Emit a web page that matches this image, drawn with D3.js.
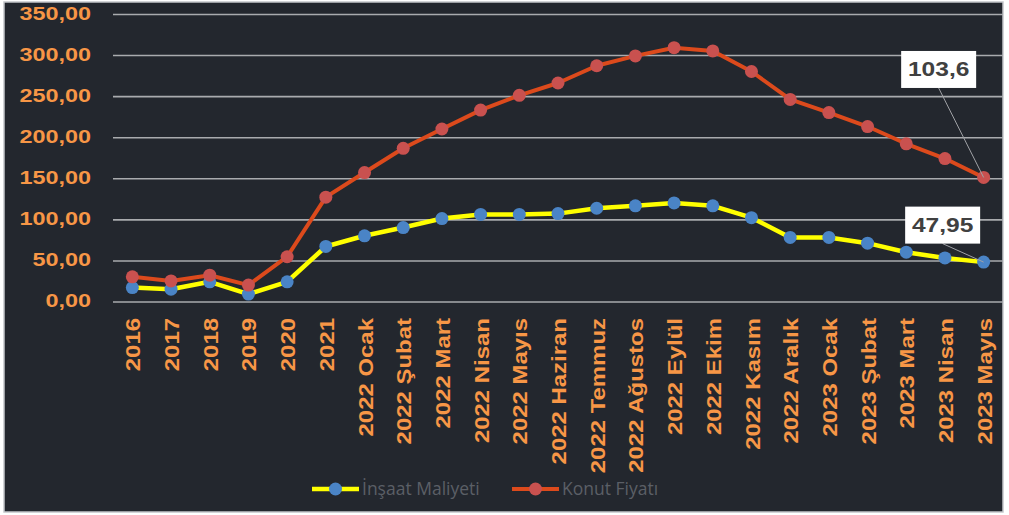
<!DOCTYPE html>
<html>
<head>
<meta charset="utf-8">
<script src="https://cdn.jsdelivr.net/npm/d3@7"></script>
<style>
  html, body { margin: 0; padding: 0; background: #ffffff; }
  svg { display: block; }
</style>
</head>
<body>
<svg id="chart" width="1009" height="515"></svg>
<script>
// ---- data ----
const categories = ["2016","2017","2018","2019","2020","2021",
  "2022 Ocak","2022 Şubat","2022 Mart","2022 Nisan","2022 Mayıs","2022 Haziran",
  "2022 Temmuz","2022 Ağustos","2022 Eylül","2022 Ekim","2022 Kasım","2022 Aralık",
  "2023 Ocak","2023 Şubat","2023 Mart","2023 Nisan","2023 Mayıs"];
const insaatMaliyeti = [17, 15, 24, 9, 24, 67, 80, 90, 101, 106, 106, 107,
  113.5, 116.5, 120, 116.5, 102, 78, 78, 71, 60, 53, 47.95];
const konutFiyati = [30, 25, 32, 20, 54.5, 127, 157, 186.5, 210, 233, 251, 266,
  287, 299, 309, 305, 280, 246, 230, 213, 192, 174, 151];
const yTicks = [0, 50, 100, 150, 200, 250, 300, 350];
const yTickLabels = ["0,00","50,00","100,00","150,00","200,00","250,00","300,00","350,00"];
const seriesNames = ["İnşaat Maliyeti", "Konut Fiyatı"];
const endLabels = ["47,95", "103,6"];

// ---- layout ----
const svg = d3.select("#chart");
const W = 1009, H = 515;
const plot = { left: 113, right: 1003, top: 14, bottom: 301.5 };
const orange = "#f79646";
const boldFont = "'Liberation Sans', Arial, sans-serif";
const colors = {
  yellowLine: "#ffff00", blueMarker: "#4a84c6",
  redLine: "#dc4a1c", redMarker: "#c9514f"
};

// stretch text glyphs horizontally (along the text direction)
function stretch(sel, k) {
  sel.each(function () {
    const n = this.getComputedTextLength();
    d3.select(this).attr("textLength", n * k).attr("lengthAdjust", "spacingAndGlyphs");
  });
}

svg.append("rect").attr("x", 0).attr("y", 0).attr("width", W).attr("height", H).attr("fill", "#ffffff");
svg.append("rect").attr("x", 4).attr("y", 2).attr("width", 999).attr("height", 510)
  .attr("fill", "#23272e").attr("stroke", "#c4c6ca").attr("stroke-width", 1.5);

const x = d3.scalePoint().domain(categories).range([plot.left, plot.right]).padding(0.5);
const y = d3.scaleLinear().domain([0, 350]).range([plot.bottom, plot.top]);

// y axis with grid
const yAxis = d3.axisLeft(y)
  .tickValues(yTicks)
  .tickFormat((d, i) => yTickLabels[i])
  .tickSizeInner(-(plot.right - plot.left))
  .tickSizeOuter(0)
  .tickPadding(22);
const gy = svg.append("g").attr("transform", `translate(${plot.left},0)`).call(yAxis);
gy.select(".domain").remove();
gy.selectAll(".tick line").attr("stroke", "#a9abae").attr("stroke-width", 1.6);
gy.selectAll(".tick text")
  .attr("fill", orange)
  .attr("font-family", boldFont)
  .attr("font-weight", "bold")
  .attr("font-size", "18px")
  .attr("dy", "0.3em")
  .call(stretch, 1.3);

// x axis
const xAxis = d3.axisBottom(x).tickSize(0);
const gx = svg.append("g").attr("transform", `translate(0,${plot.bottom})`).call(xAxis);
gx.select(".domain").remove();
gx.selectAll(".tick text")
  .attr("fill", orange)
  .attr("font-family", boldFont)
  .attr("font-weight", "bold")
  .attr("font-size", "21px")
  .attr("text-anchor", "end")
  .attr("x", 0).attr("y", 0)
  .attr("dy", "0.36em")
  .attr("transform", "translate(0,16.5) rotate(-90)")
  .call(stretch, 1.14);

// lines
const series = [
  { name: seriesNames[0], values: insaatMaliyeti, line: colors.yellowLine, marker: colors.blueMarker, width: 4.5 },
  { name: seriesNames[1], values: konutFiyati, line: colors.redLine, marker: colors.redMarker, width: 4 }
];
const lineGen = d3.line().x((d, i) => x(categories[i])).y(d => y(d));

series.forEach(s => {
  svg.append("path").datum(s.values)
    .attr("d", lineGen)
    .attr("fill", "none")
    .attr("stroke", s.line)
    .attr("stroke-width", s.width)
    .attr("stroke-linejoin", "round");
});
series.forEach(s => {
  svg.append("g").selectAll("circle").data(s.values).join("circle")
    .attr("cx", (d, i) => x(categories[i]))
    .attr("cy", d => y(d))
    .attr("r", 6.5)
    .attr("fill", s.marker);
});

// end labels
const lastCat = categories[categories.length - 1];
const endDefs = [
  { text: endLabels[0], value: insaatMaliyeti[insaatMaliyeti.length - 1], dx: -41, dy: -37 },
  { text: endLabels[1], value: konutFiyati[konutFiyati.length - 1], dx: -45, dy: -108 }
];
endDefs.forEach(e => {
  const px = x(lastCat), py = y(e.value);
  const cx = px + e.dx, cy = py + e.dy;
  const bw = 75, bh = 37;
  svg.append("line")
    .attr("x1", cx).attr("y1", cy + bh / 2)
    .attr("x2", px).attr("y2", py)
    .attr("stroke", "#a0a2a6").attr("stroke-width", 1);
  svg.append("rect")
    .attr("x", cx - bw / 2).attr("y", cy - bh / 2)
    .attr("width", bw).attr("height", bh)
    .attr("fill", "#ffffff");
  svg.append("text")
    .attr("x", cx).attr("y", cy)
    .attr("dy", "0.36em")
    .attr("text-anchor", "middle")
    .attr("font-family", boldFont)
    .attr("font-weight", "bold")
    .attr("font-size", "19.5px")
    .attr("fill", "#404040")
    .text(e.text)
    .call(stretch, 1.26);
});

// legend
const legendY = 489;
const legendItems = [
  { s: series[0], x0: 312 },
  { s: series[1], x0: 512 }
];
legendItems.forEach(li => {
  const g = svg.append("g").attr("transform", `translate(${li.x0},${legendY})`);
  g.append("line").attr("x1", 0).attr("x2", 47).attr("y1", 0).attr("y2", 0)
    .attr("stroke", li.s.line).attr("stroke-width", li.s.width);
  g.append("circle").attr("cx", 23.5).attr("cy", 0).attr("r", 6.5).attr("fill", li.s.marker);
  g.append("text").attr("x", 50).attr("y", 0).attr("dy", "0.35em")
    .attr("font-family", "'Open Sans', 'Noto Sans', sans-serif")
    .attr("font-size", "17.5px")
    .attr("fill", "#5b5f66")
    .text(li.s.name);
});
</script>
</body>
</html>
